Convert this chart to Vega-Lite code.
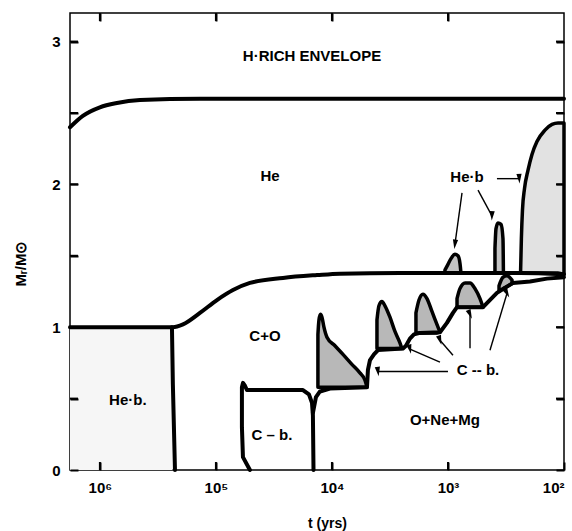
{
  "$schema": "https://vega.github.io/schema/vega-lite/v6.json",
  "width": 494,
  "height": 457,
  "autosize": {"type": "none"},
  "padding": {"left": 70, "top": 13, "right": 8, "bottom": 61},
  "background": "white",
  "config": {
    "view": {"stroke": "black", "strokeWidth": 1.5},
    "font": "Liberation Sans"
  },
  "datasets": {
    "smooth": [
      {"id": "env", "i": 0, "t": 1810000, "M": 2.40},
      {"id": "env", "i": 1, "t": 1403000, "M": 2.48},
      {"id": "env", "i": 2, "t": 1000000, "M": 2.54},
      {"id": "env", "i": 3, "t": 712900, "M": 2.57},
      {"id": "env", "i": 4, "t": 451900, "M": 2.59},
      {"id": "env", "i": 5, "t": 137400, "M": 2.60},
      {"id": "env", "i": 6, "t": 100, "M": 2.60},
      {"id": "he", "i": 0, "t": 1810000, "M": 1.0},
      {"id": "he", "i": 1, "t": 235000, "M": 1.0},
      {"id": "he", "i": 2, "t": 192300, "M": 1.02},
      {"id": "he", "i": 3, "t": 137400, "M": 1.10},
      {"id": "he", "i": 4, "t": 97950, "M": 1.19},
      {"id": "he", "i": 5, "t": 71290, "M": 1.26},
      {"id": "he", "i": 6, "t": 50930, "M": 1.31},
      {"id": "he", "i": 7, "t": 26420, "M": 1.345},
      {"id": "he", "i": 8, "t": 13460, "M": 1.365},
      {"id": "he", "i": 9, "t": 8531, "M": 1.375},
      {"id": "he", "i": 10, "t": 2594, "M": 1.38},
      {"id": "he", "i": 11, "t": 239.3, "M": 1.38},
      {"id": "he", "i": 12, "t": 100, "M": 1.37}
    ],
    "lines": [
      {"id": "heb", "i": 0, "t": 239300, "M": 1.0},
      {"id": "heb", "i": 1, "t": 235000, "M": 0.6},
      {"id": "heb", "i": 2, "t": 225400, "M": 0.0},
      {"id": "cb", "i": 0, "t": 50930, "M": 0.0},
      {"id": "cb", "i": 1, "t": 58480, "M": 0.09},
      {"id": "cb", "i": 2, "t": 59700, "M": 0.3},
      {"id": "cb", "i": 3, "t": 59700, "M": 0.58},
      {"id": "cb", "i": 4, "t": 58480, "M": 0.61},
      {"id": "cb", "i": 5, "t": 56230, "M": 0.59},
      {"id": "cb", "i": 6, "t": 54080, "M": 0.56},
      {"id": "cb", "i": 7, "t": 17780, "M": 0.56},
      {"id": "cb", "i": 8, "t": 15780, "M": 0.53},
      {"id": "cb", "i": 9, "t": 14860, "M": 0.47},
      {"id": "cb", "i": 10, "t": 14590, "M": 0.38},
      {"id": "cb", "i": 11, "t": 14420, "M": 0.0},
      {"id": "onm", "i": 0, "t": 14590, "M": 0.40},
      {"id": "onm", "i": 1, "t": 13740, "M": 0.51},
      {"id": "onm", "i": 2, "t": 12680, "M": 0.55},
      {"id": "onm", "i": 3, "t": 10400, "M": 0.57},
      {"id": "onm", "i": 4, "t": 4989, "M": 0.58},
      {"id": "onm", "i": 5, "t": 4898, "M": 0.70},
      {"id": "onm", "i": 6, "t": 4699, "M": 0.77},
      {"id": "onm", "i": 7, "t": 4345, "M": 0.81},
      {"id": "onm", "i": 8, "t": 4009, "M": 0.84},
      {"id": "onm", "i": 9, "t": 2443, "M": 0.85},
      {"id": "onm", "i": 10, "t": 2301, "M": 0.87},
      {"id": "onm", "i": 11, "t": 2128, "M": 0.92},
      {"id": "onm", "i": 12, "t": 1963, "M": 0.95},
      {"id": "onm", "i": 13, "t": 1742, "M": 0.96},
      {"id": "onm", "i": 14, "t": 1172, "M": 0.965},
      {"id": "onm", "i": 15, "t": 1021, "M": 1.03},
      {"id": "onm", "i": 16, "t": 905.7, "M": 1.10},
      {"id": "onm", "i": 17, "t": 835.6, "M": 1.14},
      {"id": "onm", "i": 18, "t": 498.9, "M": 1.14},
      {"id": "onm", "i": 19, "t": 378.4, "M": 1.24},
      {"id": "onm", "i": 20, "t": 275.4, "M": 1.31},
      {"id": "onm", "i": 21, "t": 196.3, "M": 1.32},
      {"id": "onm", "i": 22, "t": 140.3, "M": 1.34},
      {"id": "onm", "i": 23, "t": 100, "M": 1.35}
    ],
    "zones": [
      {"id": "HeCore", "t": 1810000, "top": 1.0, "base": 0},
      {"id": "HeCore", "t": 237000, "top": 1.0, "base": 0}
    ],
    "pulses": [
      {"id": "P1", "t": 13210, "top": 0.95, "base": 0.58},
      {"id": "P1", "t": 12940, "top": 1.05, "base": 0.58},
      {"id": "P1", "t": 12560, "top": 1.09, "base": 0.58},
      {"id": "P1", "t": 12190, "top": 1.07, "base": 0.58},
      {"id": "P1", "t": 11720, "top": 1.0, "base": 0.58},
      {"id": "P1", "t": 11040, "top": 0.93, "base": 0.58},
      {"id": "P1", "t": 9419, "top": 0.87, "base": 0.58},
      {"id": "P1", "t": 8035, "top": 0.81, "base": 0.58},
      {"id": "P1", "t": 6730, "top": 0.74, "base": 0.58},
      {"id": "P1", "t": 5741, "top": 0.68, "base": 0.58},
      {"id": "P1", "t": 5200, "top": 0.63, "base": 0.58},
      {"id": "P1", "t": 4989, "top": 0.58, "base": 0.58},
      {"id": "P2", "t": 4093, "top": 1.05, "base": 0.85},
      {"id": "P2", "t": 3936, "top": 1.15, "base": 0.85},
      {"id": "P2", "t": 3707, "top": 1.18, "base": 0.85},
      {"id": "P2", "t": 3491, "top": 1.15, "base": 0.85},
      {"id": "P2", "t": 3162, "top": 1.07, "base": 0.85},
      {"id": "P2", "t": 2864, "top": 0.97, "base": 0.85},
      {"id": "P2", "t": 2594, "top": 0.89, "base": 0.85},
      {"id": "P2", "t": 2495, "top": 0.85, "base": 0.85},
      {"id": "P3", "t": 1888, "top": 1.10, "base": 0.96},
      {"id": "P3", "t": 1778, "top": 1.19, "base": 0.96},
      {"id": "P3", "t": 1644, "top": 1.23, "base": 0.96},
      {"id": "P3", "t": 1517, "top": 1.20, "base": 0.96},
      {"id": "P3", "t": 1374, "top": 1.11, "base": 0.96},
      {"id": "P3", "t": 1245, "top": 1.02, "base": 0.96},
      {"id": "P3", "t": 1172, "top": 0.965, "base": 0.965},
      {"id": "P4", "t": 835.6, "top": 1.20, "base": 1.14},
      {"id": "P4", "t": 788.9, "top": 1.27, "base": 1.14},
      {"id": "P4", "t": 712.9, "top": 1.31, "base": 1.14},
      {"id": "P4", "t": 645.7, "top": 1.31, "base": 1.14},
      {"id": "P4", "t": 584.8, "top": 1.27, "base": 1.14},
      {"id": "P4", "t": 529.7, "top": 1.20, "base": 1.14},
      {"id": "P4", "t": 498.9, "top": 1.14, "base": 1.14},
      {"id": "P5", "t": 363.1, "top": 1.29, "base": 1.25},
      {"id": "P5", "t": 335.7, "top": 1.35, "base": 1.27},
      {"id": "P5", "t": 309.7, "top": 1.36, "base": 1.285},
      {"id": "P5", "t": 280.5, "top": 1.33, "base": 1.305},
      {"id": "H1", "t": 1062, "top": 1.40, "base": 1.38},
      {"id": "H1", "t": 1000, "top": 1.44, "base": 1.38},
      {"id": "H1", "t": 941.9, "top": 1.48, "base": 1.38},
      {"id": "H1", "t": 871.0, "top": 1.51, "base": 1.38},
      {"id": "H1", "t": 820.4, "top": 1.50, "base": 1.38},
      {"id": "H1", "t": 788.9, "top": 1.45, "base": 1.38},
      {"id": "H1", "t": 772.7, "top": 1.38, "base": 1.38},
      {"id": "H2", "t": 393.6, "top": 1.55, "base": 1.38},
      {"id": "H2", "t": 385.5, "top": 1.69, "base": 1.38},
      {"id": "H2", "t": 370.7, "top": 1.73, "base": 1.38},
      {"id": "H2", "t": 349.1, "top": 1.72, "base": 1.38},
      {"id": "H2", "t": 335.7, "top": 1.62, "base": 1.38},
      {"id": "H2", "t": 332.7, "top": 1.38, "base": 1.38},
      {"id": "H3", "t": 236.5, "top": 1.40, "base": 1.38},
      {"id": "H3", "t": 233.0, "top": 1.62, "base": 1.38},
      {"id": "H3", "t": 228.0, "top": 1.82, "base": 1.38},
      {"id": "H3", "t": 219.0, "top": 1.97, "base": 1.38},
      {"id": "H3", "t": 204.2, "top": 2.10, "base": 1.38},
      {"id": "H3", "t": 188.8, "top": 2.21, "base": 1.38},
      {"id": "H3", "t": 171.0, "top": 2.30, "base": 1.38},
      {"id": "H3", "t": 145.9, "top": 2.38, "base": 1.38},
      {"id": "H3", "t": 126.8, "top": 2.42, "base": 1.38},
      {"id": "H3", "t": 112.7, "top": 2.43, "base": 1.38},
      {"id": "H3", "t": 100, "top": 2.43, "base": 1.37}
    ],
    "arrows": [
      {"id": "a1", "t1": 756.8, "M1": 1.94, "t2": 871.0, "M2": 1.58},
      {"id": "a2", "t1": 550.8, "M1": 1.96, "t2": 417.8, "M2": 1.78},
      {"id": "a3", "t1": 378.4, "M1": 2.04, "t2": 243.0, "M2": 2.04},
      {"id": "c1", "t1": 1000, "M1": 0.69, "t2": 4009, "M2": 0.69},
      {"id": "c2", "t1": 1172, "M1": 0.755, "t2": 2128, "M2": 0.846},
      {"id": "c3", "t1": 905.7, "M1": 0.804, "t2": 1172, "M2": 0.909},
      {"id": "c4", "t1": 645.7, "M1": 0.853, "t2": 645.7, "M2": 1.09},
      {"id": "c5", "t1": 434.5, "M1": 0.839, "t2": 309.7, "M2": 1.238}
    ],
    "ticks": [
      {"side": "b", "t": 1000000, "M": 0},
      {"side": "b", "t": 100000, "M": 0},
      {"side": "b", "t": 10000, "M": 0},
      {"side": "b", "t": 1000, "M": 0},
      {"side": "t", "t": 1000000, "M": 3.2},
      {"side": "t", "t": 100000, "M": 3.2},
      {"side": "t", "t": 10000, "M": 3.2},
      {"side": "t", "t": 1000, "M": 3.2},
      {"side": "l", "t": 1810000, "M": 0.5},
      {"side": "l", "t": 1810000, "M": 1.0},
      {"side": "l", "t": 1810000, "M": 1.5},
      {"side": "l", "t": 1810000, "M": 2.0},
      {"side": "l", "t": 1810000, "M": 2.5},
      {"side": "l", "t": 1810000, "M": 3.0},
      {"side": "r", "t": 100, "M": 0.5},
      {"side": "r", "t": 100, "M": 1.0},
      {"side": "r", "t": 100, "M": 1.5},
      {"side": "r", "t": 100, "M": 2.0},
      {"side": "r", "t": 100, "M": 2.5},
      {"side": "r", "t": 100, "M": 3.0}
    ],
    "labels": [
      {"label": "H·RICH ENVELOPE", "t": 14860, "M": 2.90},
      {"label": "He", "t": 34200, "M": 2.06},
      {"label": "C+O", "t": 37800, "M": 0.94},
      {"label": "He·b.", "t": 574000, "M": 0.49},
      {"label": "C – b.", "t": 32900, "M": 0.245},
      {"label": "O+Ne+Mg", "t": 1062, "M": 0.35},
      {"label": "He·b", "t": 686, "M": 2.05},
      {"label": "C -- b.", "t": 551, "M": 0.70}
    ]
  },
  "layer": [
    {
      "data": {"name": "zones"},
      "mark": {"type": "area", "fill": "#f6f6f6", "stroke": null},
      "encoding": {
        "x": {"field": "t", "type": "quantitative", "scale": {"type": "log", "domain": [100, 1810000], "reverse": true, "nice": false}, "axis": {"orient": "bottom", "zindex": 1, "values": [1000000, 100000, 10000, 1000, 100], "labelExpr": "datum.value >= 999999 ? '10⁶' : datum.value >= 99999 ? '10⁵' : datum.value >= 9999 ? '10⁴' : datum.value >= 999 ? '10³' : '10²'", "grid": false, "domain": false, "ticks": true, "tickSize": 8, "offset": -8, "tickColor": "black", "tickWidth": 2, "labelPadding": 10, "labelColor": "black", "labelFont": "Liberation Sans", "labelFontSize": 15, "labelFontWeight": "bold", "title": "t (yrs)", "titleColor": "black", "titleFont": "Liberation Sans", "titleFontSize": 14, "titleFontWeight": "bold", "titleX": 257, "titleY": 61, "titleBaseline": "middle"}},
        "y": {"field": "top", "type": "quantitative", "scale": {"domain": [0, 3.2], "nice": false, "zero": false}, "axis": {"orient": "left", "zindex": 1, "values": [0, 0.5, 1, 1.5, 2, 2.5, 3], "labelExpr": "datum.value % 1 === 0 ? format(datum.value, 'd') : ''", "grid": false, "domain": false, "ticks": true, "tickSize": -8, "tickColor": "black", "tickWidth": 2, "labelPadding": 18, "labelColor": "black", "labelFont": "Liberation Sans", "labelFontSize": 15, "labelFontWeight": "bold", "title": "Mᵣ/M⊙", "titleColor": "black", "titleFont": "Liberation Sans", "titleFontSize": 15, "titleFontWeight": "bold", "titleX": -50, "titleY": 250, "titleBaseline": "middle", "titleAlign": "center"}},
        "y2": {"field": "base"}
      }
    },
    {
      "data": {"name": "pulses"},
      "mark": {"type": "area", "stroke": "black", "strokeWidth": 3.5, "strokeJoin": "round", "interpolate": "monotone"},
      "encoding": {
        "x": {"field": "t", "type": "quantitative", "scale": {"type": "log", "domain": [100, 1810000], "reverse": true, "nice": false}, "axis": {"orient": "top", "zindex": 1, "values": [1000000, 100000, 10000, 1000], "labels": false, "title": null, "grid": false, "domain": false, "ticks": true, "tickSize": -8, "tickColor": "black", "tickWidth": 2}},
        "y": {"field": "top", "type": "quantitative", "scale": {"domain": [0, 3.2], "nice": false, "zero": false}, "axis": {"orient": "right", "zindex": 1, "values": [0, 0.5, 1, 1.5, 2, 2.5, 3], "labels": false, "title": null, "grid": false, "domain": false, "ticks": true, "tickSize": -8, "tickColor": "black", "tickWidth": 2}},
        "y2": {"field": "base"},
        "detail": {"field": "id"},
        "fill": {"field": "id", "type": "nominal", "scale": {"domain": ["P1", "P2", "P3", "P4", "P5", "H1", "H2", "H3"], "range": ["#b8b8b8", "#b8b8b8", "#b8b8b8", "#b8b8b8", "#b8b8b8", "#c4c4c4", "#c4c4c4", "#e2e2e2"]}, "legend": null}
      }
    },
    {
      "data": {"name": "smooth"},
      "mark": {"type": "line", "color": "black", "strokeWidth": 4, "strokeJoin": "round", "strokeCap": "round", "interpolate": "monotone"},
      "encoding": {
        "x": {"field": "t", "type": "quantitative", "scale": {"type": "log", "domain": [100, 1810000], "reverse": true, "nice": false}, "axis": null},
        "y": {"field": "M", "type": "quantitative", "scale": {"domain": [0, 3.2], "nice": false, "zero": false}, "axis": null},
        "detail": {"field": "id"},
        "order": {"field": "i"}
      }
    },
    {
      "data": {"name": "lines"},
      "mark": {"type": "line", "color": "black", "strokeWidth": 4, "strokeJoin": "round", "strokeCap": "round"},
      "encoding": {
        "x": {"field": "t", "type": "quantitative", "scale": {"type": "log", "domain": [100, 1810000], "reverse": true, "nice": false}, "axis": null},
        "y": {"field": "M", "type": "quantitative", "scale": {"domain": [0, 3.2], "nice": false, "zero": false}, "axis": null},
        "detail": {"field": "id"},
        "order": {"field": "i"}
      }
    },
    {
      "data": {"name": "ticks"},
      "mark": {"type": "point", "filled": false, "color": "black", "strokeWidth": 2, "size": 256, "opacity": 1},
      "encoding": {
        "x": {"field": "t", "type": "quantitative", "scale": {"type": "log", "domain": [100, 1810000], "reverse": true, "nice": false}, "axis": null},
        "y": {"field": "M", "type": "quantitative", "scale": {"domain": [0, 3.2], "nice": false, "zero": false}, "axis": null},
        "shape": {"field": "side", "type": "nominal", "scale": {"domain": ["b", "t", "l", "r"], "range": ["M0,0L0,-1", "M0,0L0,1", "M0,0L1,0", "M0,0L-1,0"]}, "legend": null}
      }
    },
    {
      "data": {"name": "arrows"},
      "mark": {"type": "rule", "color": "black", "strokeWidth": 1.4},
      "encoding": {
        "x": {"field": "t1", "type": "quantitative", "scale": {"type": "log", "domain": [100, 1810000], "reverse": true, "nice": false}, "axis": null},
        "x2": {"field": "t2"},
        "y": {"field": "M1", "type": "quantitative", "scale": {"domain": [0, 3.2], "nice": false, "zero": false}, "axis": null},
        "y2": {"field": "M2"}
      }
    },
    {
      "data": {"name": "arrows"},
      "mark": {"type": "point", "shape": "M0,-1L0.55,1L-0.55,1Z", "filled": true, "color": "black", "size": 90, "opacity": 1},
      "encoding": {
        "x": {"field": "t2", "type": "quantitative", "scale": {"type": "log", "domain": [100, 1810000], "reverse": true, "nice": false}, "axis": null},
        "y": {"field": "M2", "type": "quantitative", "scale": {"domain": [0, 3.2], "nice": false, "zero": false}, "axis": null},
        "angle": {"field": "id", "type": "nominal", "scale": {"domain": ["a1", "a2", "a3", "c1", "c2", "c3", "c4", "c5"], "range": [187, 152, 93, 270, 293, 319, 0, 17]}, "legend": null}
      }
    },
    {
      "data": {"name": "labels"},
      "mark": {"type": "text", "font": "Liberation Sans", "fontSize": 15, "fontWeight": "bold", "color": "black", "align": "center", "baseline": "middle"},
      "encoding": {
        "x": {"field": "t", "type": "quantitative", "scale": {"type": "log", "domain": [100, 1810000], "reverse": true, "nice": false}, "axis": null},
        "y": {"field": "M", "type": "quantitative", "scale": {"domain": [0, 3.2], "nice": false, "zero": false}, "axis": null},
        "text": {"field": "label"}
      }
    }
  ],
  "resolve": {"axis": {"x": "independent", "y": "independent"}}
}
